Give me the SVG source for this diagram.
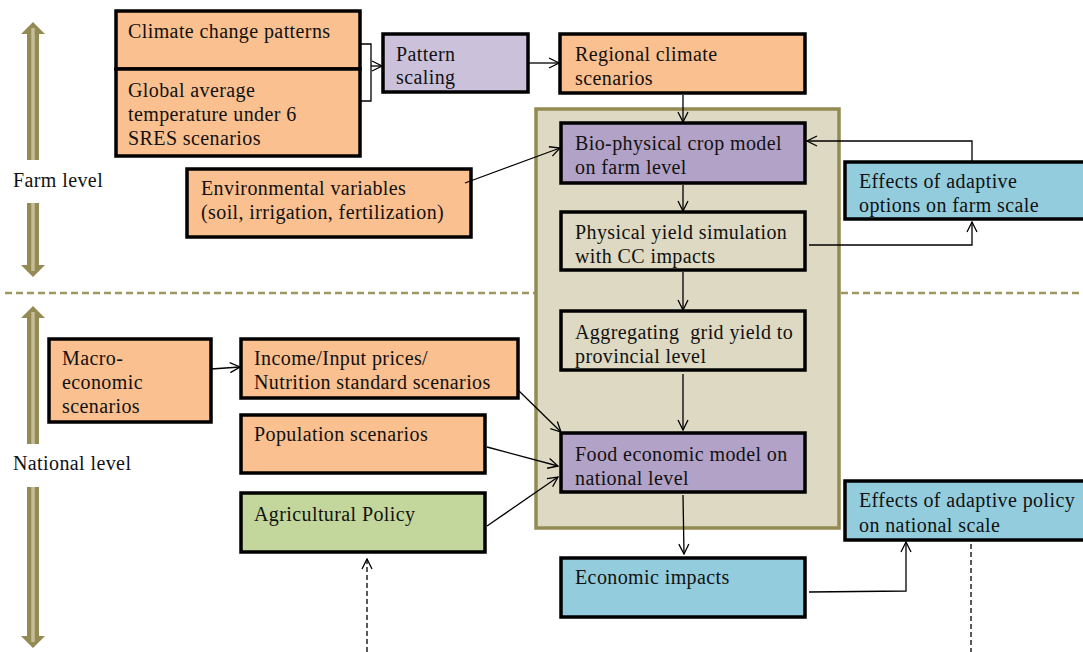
<svg xmlns="http://www.w3.org/2000/svg" width="1083" height="652" viewBox="0 0 1083 652">
<style>
text{font-family:"Liberation Serif","Times New Roman",serif;font-size:20px;letter-spacing:0.4px;fill:#111;white-space:pre}
.box{stroke:#000;stroke-width:3.5}
.or{fill:#FAC090}
.pu{fill:#B3A2C7}
.lp{fill:#CCC1DA}
.tn{fill:#DDD9C3}
.bl{fill:#93CDDD}
.gr{fill:#C3D69B}
.c{fill:none;stroke:#000;stroke-width:1.3}
.d{fill:none;stroke:#000;stroke-width:1.3;stroke-dasharray:5 3}
.ol{fill:#948A54}
.lt{stroke:#C4BD97;stroke-width:3.5;fill:none}
</style>
<defs>
<marker id="ah" viewBox="0 0 12 12" refX="11" refY="6" markerWidth="12" markerHeight="12" markerUnits="userSpaceOnUse" orient="auto">
<path d="M1,1 L11,6 L1,11" fill="none" stroke="#000" stroke-width="1.3"/>
</marker>
</defs>

<g id="level-guides">
<line x1="5" y1="293" x2="1083" y2="293" stroke="#A09660" stroke-width="2.5" stroke-dasharray="7 4"/>
<polygon class="ol" points="33,22 45,34 39,34 39,160 27,160 27,34 21,34"/>
<line class="lt" x1="33" y1="28" x2="33" y2="160"/>
<polygon class="ol" points="33,277 45,265 39,265 39,203 27,203 27,265 21,265"/>
<line class="lt" x1="33" y1="203" x2="33" y2="271"/>
<polygon class="ol" points="33,306 45,318 39,318 39,444 27,444 27,318 21,318"/>
<line class="lt" x1="33" y1="312" x2="33" y2="444"/>
<polygon class="ol" points="33,648 45,636 39,636 39,487 27,487 27,636 21,636"/>
<line class="lt" x1="33" y1="487" x2="33" y2="642"/>
<text x="13" y="187">Farm level</text>
<text x="13" y="470">National level</text>
</g>

<g id="container">
<rect x="536" y="109" width="303" height="419" class="tn" stroke="#948A54" stroke-width="3.5"/>
</g>

<g id="climate-change-patterns">
<rect x="116" y="11" width="244" height="58" class="box or"/>
<text x="128" y="38">Climate change patterns</text>
</g>
<g id="global-average">
<rect x="116" y="69" width="244" height="87" class="box or"/>
<text x="128" y="97">Global average</text>
<text x="128" y="121">temperature under 6</text>
<text x="128" y="145">SRES scenarios</text>
</g>
<g id="pattern-scaling">
<rect x="383" y="34" width="145" height="58" class="box lp"/>
<text x="396" y="61">Pattern</text>
<text x="396" y="84">scaling</text>
</g>
<g id="regional-climate">
<rect x="560" y="34" width="245" height="59" class="box or"/>
<text x="575" y="61">Regional climate</text>
<text x="575" y="85">scenarios</text>
</g>
<g id="environmental">
<rect x="187" y="169" width="284" height="68" class="box or"/>
<text x="201" y="195">Environmental variables</text>
<text x="201" y="219">(soil, irrigation, fertilization)</text>
</g>
<g id="bio-physical">
<rect x="561" y="123" width="244" height="60" class="box pu"/>
<text x="575" y="150">Bio-physical crop model</text>
<text x="575" y="174">on farm level</text>
</g>
<g id="effects-farm">
<rect x="845" y="162" width="250" height="57" class="box bl"/>
<text x="859" y="188">Effects of adaptive</text>
<text x="859" y="212">options on farm scale</text>
</g>
<g id="physical-yield">
<rect x="561" y="212" width="244" height="58" class="box tn"/>
<text x="575" y="239">Physical yield simulation</text>
<text x="575" y="263">with CC impacts</text>
</g>
<g id="aggregating">
<rect x="561" y="311" width="244" height="59" class="box tn"/>
<text x="575" y="339">Aggregating  grid yield to</text>
<text x="575" y="363">provincial level</text>
</g>
<g id="food-economic">
<rect x="561" y="433" width="244" height="59" class="box pu"/>
<text x="575" y="461">Food economic model on</text>
<text x="575" y="485">national level</text>
</g>
<g id="economic-impacts">
<rect x="561" y="558" width="244" height="59" class="box bl"/>
<text x="575" y="584">Economic impacts</text>
</g>
<g id="effects-policy">
<rect x="845" y="481" width="250" height="59" class="box bl"/>
<text x="859" y="507">Effects of adaptive policy</text>
<text x="859" y="532">on national scale</text>
</g>
<g id="macro-economic">
<rect x="49" y="339" width="162" height="83" class="box or"/>
<text x="62" y="365">Macro-</text>
<text x="62" y="389">economic</text>
<text x="62" y="413">scenarios</text>
</g>
<g id="income">
<rect x="241" y="339" width="277" height="59" class="box or"/>
<text x="254" y="365">Income/Input prices/</text>
<text x="254" y="389">Nutrition standard scenarios</text>
</g>
<g id="population">
<rect x="241" y="415" width="244" height="58" class="box or"/>
<text x="254" y="441">Population scenarios</text>
</g>
<g id="agricultural-policy">
<rect x="241" y="493" width="244" height="59" class="box gr"/>
<text x="254" y="521">Agricultural Policy</text>
</g>

<g id="connectors">
<path class="c" d="M360,44 H371 V101 H360"/>
<line class="c" x1="371" y1="66" x2="382" y2="66" marker-end="url(#ah)"/>
<line class="c" x1="528" y1="63" x2="559" y2="63" marker-end="url(#ah)"/>
<line class="c" x1="683" y1="95" x2="683" y2="122" marker-end="url(#ah)"/>
<line class="c" x1="465" y1="183" x2="560" y2="148" marker-end="url(#ah)"/>
<path class="c" d="M972,162 V141 H807" marker-end="url(#ah)"/>
<line class="c" x1="683" y1="185" x2="683" y2="211" marker-end="url(#ah)"/>
<path class="c" d="M809,245 H972 V222" marker-end="url(#ah)"/>
<line class="c" x1="683" y1="272" x2="683" y2="310" marker-end="url(#ah)"/>
<line class="c" x1="683" y1="374" x2="683" y2="430" marker-end="url(#ah)"/>
<line class="c" x1="211" y1="369" x2="240" y2="367" marker-end="url(#ah)"/>
<line class="c" x1="518" y1="390" x2="561" y2="432" marker-end="url(#ah)"/>
<line class="c" x1="487" y1="447" x2="558" y2="466" marker-end="url(#ah)"/>
<line class="c" x1="487" y1="526" x2="558" y2="477" marker-end="url(#ah)"/>
<line class="c" x1="683" y1="495" x2="684" y2="554" marker-end="url(#ah)"/>
<path class="c" d="M809,592 L906,591 V542" marker-end="url(#ah)"/>
<line class="d" x1="367" y1="652" x2="367" y2="559" marker-end="url(#ah)"/>
<line class="d" x1="971" y1="544" x2="971" y2="652"/>
</g>
</svg>
